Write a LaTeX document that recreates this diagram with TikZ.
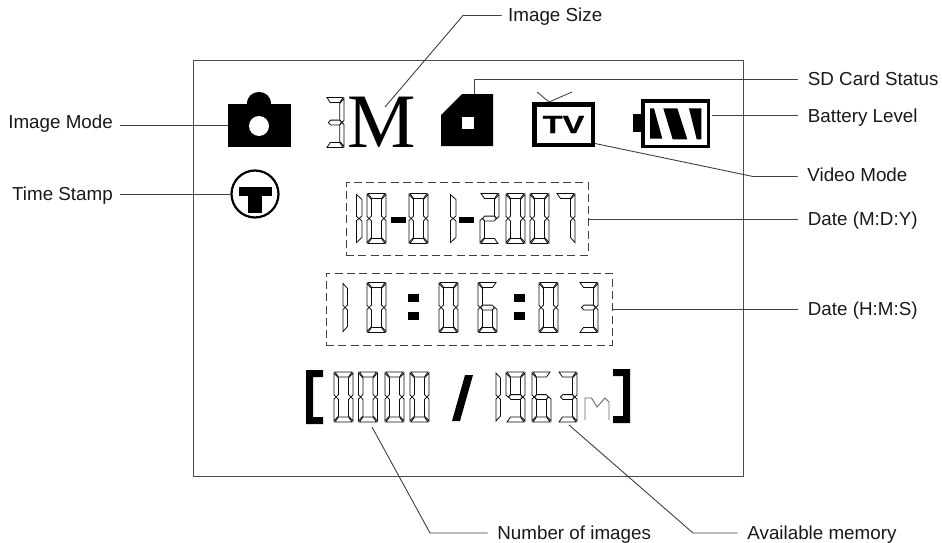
\documentclass[tikz,border=0pt]{standalone}
\usepackage{fontspec}
\setmainfont{Liberation Sans}
\newfontfamily\serifM{Liberation Serif}
\tikzset{
  lab/.style={font=\fontsize{18.8}{20}\selectfont, inner ysep=2pt, text=black!90},
  labr/.style={lab, anchor=base west, inner xsep=9.7pt},
  labl/.style={lab, anchor=base east, inner xsep=7pt},
  conn/.style={draw=black!75, line width=0.9pt},
  seg/.style={draw=black!95, line width=0.8pt, line join=miter, fill=white},
  solidicon/.style={fill=black, draw=none, inner sep=0pt},
  dashbox/.style={draw=black!75, line width=0.8pt, dash pattern=on 8pt off 4.3pt},
  frameline/.style={draw=black!70, line width=1pt},
}
% seven-segment parts (digit cell 19 x 50)
\newcommand{\segA}{\draw[seg] (1,0)--(18,0)--(14.5,5)--(4.5,5)--cycle;}
\newcommand{\segB}{\draw[seg] (19,1)--(19,23)--(16.8,25)--(14.5,22.5)--(14.5,6)--cycle;}
\newcommand{\segC}{\draw[seg] (19,49)--(19,27)--(16.8,25)--(14.5,27.5)--(14.5,44)--cycle;}
\newcommand{\segD}{\draw[seg] (1,50)--(18,50)--(14.5,45)--(4.5,45)--cycle;}
\newcommand{\segE}{\draw[seg] (0,49)--(0,27)--(2.2,25)--(4.5,27.5)--(4.5,44)--cycle;}
\newcommand{\segF}{\draw[seg] (0,1)--(0,23)--(2.2,25)--(4.5,22.5)--(4.5,6)--cycle;}
\newcommand{\segG}{\draw[seg] (2.5,25)--(4.8,22.6)--(14.2,22.6)--(16.5,25)--(14.2,27.4)--(4.8,27.4)--cycle;}
\newcommand{\dZero}{\segA\segB\segC\segD\segE\segF}
\newcommand{\dOne}{\segE\segF}
\newcommand{\dTwo}{\segA\segB\segG\segE\segD}
\newcommand{\dThree}{\segA\segB\segG\segC\segD}
\newcommand{\dSix}{\segA\segF\segG\segE\segC\segD}
\newcommand{\dSeven}{\segA\segB\segC}
\newcommand{\dNine}{\segA\segB\segC\segD\segF\segG}
\newcommand{\lcdDigit}[3]{\begin{scope}[shift={(#1,#2)}]#3\end{scope}}
\begin{document}
\begin{tikzpicture}[x=1pt,y=-1pt]
\useasboundingbox[fill=white] (0,0) rectangle (942,543);
% screen frame
\draw[frameline] (193,61) rectangle (743,476);

% camera
\fill (247,104) .. controls (247,96) and (253,92) .. (259,92) .. controls (265,92) and (271,96) .. (271,104) -- cycle;
\node[solidicon, minimum width=63pt, minimum height=43pt] (camera) at (259.5,125.5) {};
\fill[white] (259,126) circle (10);

% 3M
\lcdDigit{326}{97.5}{\begin{scope}[xscale=0.95]\segA\segB\segG\segC\segD\end{scope}}
\node[inner sep=0pt, anchor=base, font=\serifM\fontsize{77}{77}\selectfont, text=black] (bigm) at (382,147) {M};
\coordinate (mtip) at (385,107);

% SD card
\node[inner sep=0pt, minimum width=52pt, minimum height=52pt] (sdcard) at (467,120) {};
\fill (441,115) -- (462,94) -- (493,94) -- (493,146) -- (441,146) -- cycle;
\fill[white] (462,117) rectangle (474,129);
\coordinate (sdtop) at (474,94);
\coordinate (sdelbow) at (474,79);

% TV
\node[draw=black, line width=4.5pt, minimum width=58.5pt, minimum height=40.5pt, inner sep=0pt, font=\fontsize{25}{25}\bfseries\selectfont, text=black] (tv) at (563.5,124.5) {\addfontfeature{FakeBold=1}\scalebox{1.3}[1]{TV}};
\coordinate (antenna) at (549,102);
\draw[black!80, line width=0.8pt] (537,92) -- (antenna) -- (572,92);
\coordinate (tvcorner) at (595,143.5);
\coordinate (tvelbow) at (753,176.5);

% battery
\node[draw=black, line width=3.5pt, minimum width=65.5pt, minimum height=45.5pt, inner sep=0pt] (battery) at (675.5,123.5) {};
\fill (633,114) rectangle (641,132);
\fill (650,108.3) -- (654,108.3) -- (662.3,138.7) -- (650,138.7) -- cycle;
\fill (663.3,108.3) -- (677.3,108.3) -- (687.3,139.3) -- (672.7,139.3) -- cycle;
\fill (689,108.3) -- (701.3,108.3) -- (701.3,139.3) -- (696.7,139.3) -- cycle;
\coordinate (batteryout) at (712,115.5);

% time stamp
\node[circle, draw=black, line width=2.2pt, minimum size=47pt, inner sep=0pt] (stamp) at (255,194) {};
\fill (239,187) rectangle (272,196);
\fill (248,196) rectangle (262,213);

% date row
\node[dashbox, minimum width=242pt, minimum height=73pt, inner sep=0pt] (datebox) at (467,218.5) {};
\lcdDigit{356.5}{193.5}{\begin{scope}[xscale=1.2]\dOne\end{scope}}
\lcdDigit{367}{193.5}{\dZero}
\fill (391,217) rectangle (406,223);
\lcdDigit{409}{193.5}{\dZero}
\lcdDigit{450.5}{193.5}{\begin{scope}[xscale=1.2]\dOne\end{scope}}
\fill (459,217) rectangle (474,223);
\lcdDigit{480}{193.5}{\dTwo}
\lcdDigit{506}{193.5}{\dZero}
\lcdDigit{530}{193.5}{\dZero}
\lcdDigit{556}{193.5}{\dSeven}
\coordinate (dateout) at (587.5,219.5);

% time row
\node[dashbox, minimum width=286pt, minimum height=72pt, inner sep=0pt] (timebox) at (469,309) {};
\lcdDigit{343}{282.5}{\dOne}
\lcdDigit{367}{282.5}{\dZero}
\fill (408,294) rectangle (419,302);
\fill (408,312) rectangle (419,320);
\lcdDigit{439}{282.5}{\dZero}
\lcdDigit{478}{282.5}{\dSix}
\fill (514,294) rectangle (525,302);
\fill (514,312) rectangle (525,320);
\lcdDigit{539}{282.5}{\dZero}
\lcdDigit{579}{282.5}{\dThree}

% counter row
\fill (306,370) -- (323,370) -- (323,377) -- (313,377) -- (313,417) -- (323,417) -- (323,424) -- (306,424) -- cycle;
\fill (630,369) -- (613,369) -- (613,376) -- (623,376) -- (623,416) -- (613,416) -- (613,423) -- (630,423) -- cycle;
\lcdDigit{334}{372}{\dZero}
\lcdDigit{358.5}{372}{\dZero}
\lcdDigit{385}{372}{\dZero}
\lcdDigit{410}{372}{\dZero}
\fill (465,375) -- (473,375) -- (460,421) -- (452,421) -- cycle;
\lcdDigit{496}{372}{\dOne}
\lcdDigit{506}{372}{\dNine}
\lcdDigit{532}{372}{\dSix}
\lcdDigit{558}{372}{\dThree}
\draw[black!60, line width=0.9pt] (585,420) -- (585,398) -- (591.5,398) -- (597,407) -- (605,398) -- (609,402) -- (609,420);
\coordinate (countdigit) at (372,427);
\coordinate (memdigit) at (569,425);
\coordinate (countelbow) at (430,533);
\coordinate (memelbow) at (693,533);

% labels
\node[labl] (imagemode) at (120,128.5) {Image Mode};
\node[labl] (timestamp) at (120,200) {Time Stamp};
\node[labr, inner xsep=6.3pt] (imagesize) at (501.7,22) {Image Size};
\coordinate (sizeelbow) at (463,15.5);
\node[labr] (sdstatus) at (798,85) {SD Card Status};
\node[labr] (batterylevel) at (798,122) {Battery Level};
\node[labr] (videomode) at (797.5,181.7) {Video Mode};
\node[labr] (datemdy) at (798,225) {Date (M:D:Y)};
\node[labr] (datehms) at (798,315) {Date (H:M:S)};
\node[labr] (numimages) at (487.5,539.5) {Number of images};
\node[labr] (availmem) at (737.5,539.5) {Available memory};

% connectors
\draw[conn] (imagemode.east |- camera.west) -- (camera.west);
\draw[conn] (timestamp.east |- stamp.west) -- (stamp.west);
\draw[conn] (mtip) -- (sizeelbow) -- (sizeelbow -| imagesize.west);
\draw[conn] (sdtop) -- (sdelbow) -- (sdelbow -| sdstatus.west);
\draw[conn] (batteryout) -- (batteryout -| batterylevel.west);
\draw[conn] (tvcorner) -- (tvelbow) -- (tvelbow -| videomode.west);
\draw[conn] (dateout) -- (dateout -| datemdy.west);
\draw[conn] (timebox.east) -- (timebox.east -| datehms.west);
\draw[conn] (countdigit) -- (countelbow) -- (countelbow -| numimages.west);
\draw[conn] (memdigit) -- (memelbow) -- (memelbow -| availmem.west);
\end{tikzpicture}
\end{document}
